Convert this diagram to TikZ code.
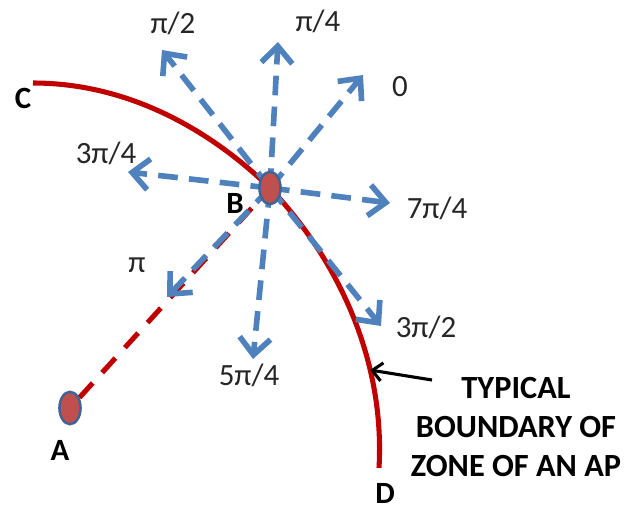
\documentclass[tikz,border=0pt]{standalone}
\usepackage{fontspec}
\setmainfont{Carlito}
\usetikzlibrary{arrows.meta,backgrounds,shapes.geometric}
\definecolor{zonered}{RGB}{192,0,0}
\definecolor{dirblue}{RGB}{79,129,189}
\definecolor{apfill}{RGB}{192,80,77}
\definecolor{apedge}{RGB}{65,100,150}
\tikzset{
  bnd/.style={zonered, line width=3.6pt},
  link/.style={zonered, line width=3.6pt, dash pattern=on 14pt off 10pt},
  dirarr/.style={-{Straight Barb[length=12pt,width=22pt]}, dirblue, line width=4pt,
                 dash pattern=on 14pt off 8pt},
  apnode/.style={ellipse, draw=apedge, fill=apfill, line width=1.8pt, inner sep=0pt,
                 minimum width=15pt, minimum height=23pt},
  ang/.style={font=\fontsize{22}{26}\selectfont, text=black!85, inner sep=0pt},
  ptlab/.style={font=\fontsize{22}{26}\selectfont\bfseries, inner sep=0pt},
  note/.style={font=\fontsize{23}{27.7}\selectfont\bfseries, align=center, inner sep=0pt},
  callout/.style={-{Straight Barb[length=7pt,width=13pt]}, black, line width=2.2pt},
}

\begin{document}
\begin{tikzpicture}[x=0.025cm, y=0.025cm]
    \path[use as bounding box] (0,0) rectangle (633,-509);
    % access points
    \node[apnode] (A) at (70,-408) {};
    \node[apnode] (B) at (270,-188) {};
    \coordinate (C) at (33,-83);
    \coordinate (D) at (379,-468);
    % arrow ends
    \coordinate (d0) at (363,-75);
    \coordinate (d1) at (278,-42);
    \coordinate (d2) at (162,-50);
    \coordinate (d3) at (128,-172);
    \coordinate (d4) at (167,-297);
    \coordinate (d5) at (253,-359);
    \coordinate (d6) at (381,-326);
    \coordinate (d7) at (390,-203);
    \coordinate (hit) at (370,-370);
    \coordinate (from) at (432,-380);
    \begin{scope}[on background layer]
      \draw[bnd] (C) .. controls (123,-83) and (205,-125) .. (B.center)
                     .. controls (340,-262) and (385,-362) .. (D);
      \draw[link] (A) -- (B.center);
      \draw[dirarr] (B.center) -- (d0);
      \draw[dirarr] (B.center) -- (d1);
      \draw[dirarr] (B.center) -- (d2);
      \draw[dirarr] (B.center) -- (d3);
      \draw[dirarr] (B.center) -- (d4);
      \draw[dirarr] (B.center) -- (d5);
      \draw[dirarr] (B.center) -- (d6);
      \draw[dirarr] (B.center) -- (d7);
    \end{scope}
    \draw[callout] (from) -- (hit);
    % labels
    \node[ang] (l0) at (400,-87) {0};
    \node[ang] (l1) at (318,-21) {π/4};
    \node[ang] (l2) at (173,-23) {π/2};
    \node[ang] (l3) at (106,-153) {3π/4};
    \node[ang] (l4) at (137,-265) {π};
    \node[ang] (l5) at (249,-375) {5π/4};
    \node[ang] (l6) at (426,-327) {3π/2};
    \node[ang] (l7) at (437,-208) {7π/4};
    \node[ptlab] (la) at (60,-450) {A};
    \node[ptlab] (lb) at (235,-203) {B};
    \node[ptlab] (lc) at (23,-98) {C};
    \node[ptlab] (ld) at (385,-493) {D};
    \node[note] (zone) at (516,-427) {TYPICAL\\BOUNDARY OF\\ZONE OF AN AP};
\end{tikzpicture}
\end{document}
